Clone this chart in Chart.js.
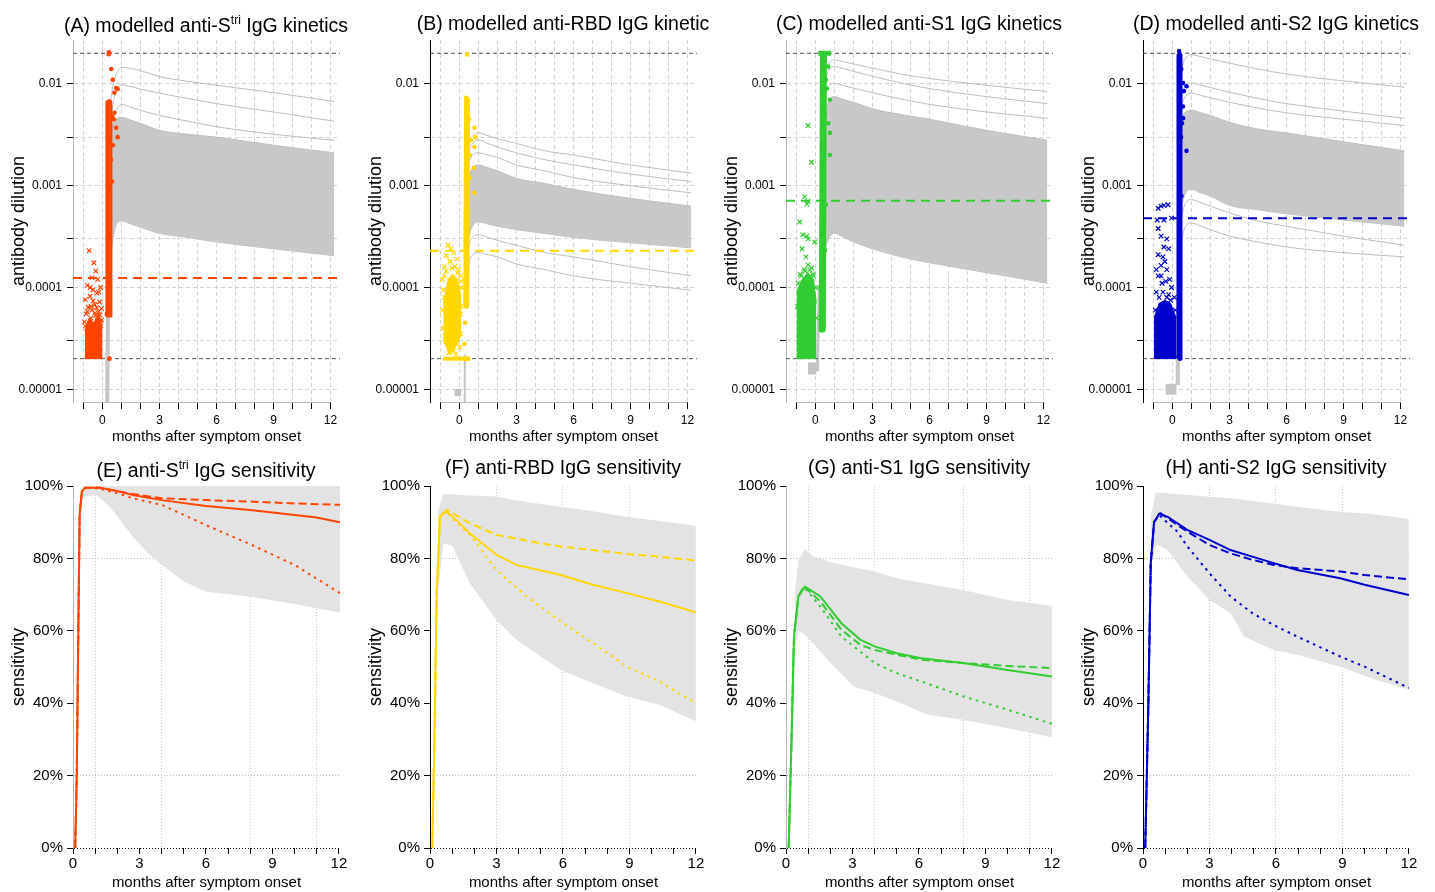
<!DOCTYPE html>
<html>
<head>
<meta charset="utf-8">
<title>Modelled IgG kinetics and sensitivity</title>
<script src="https://cdn.jsdelivr.net/npm/chart.js"></script>
<style>
  body { margin: 0; background: #fff; font-family: "Liberation Sans", Arial, sans-serif; }
  #page { position: relative; width: 1435px; height: 892px; }
  canvas { position: absolute; }
  .ttl { position: absolute; width: 400px; text-align: center; font-size: 19.5px; line-height: 24px; white-space: nowrap; color: #000; }
  .ttl sup { font-size: 12px; position: relative; top: -1px; line-height: 0; }
</style>
</head>
<body>
<div id="page">
  <canvas id="cA" width="357" height="446" style="left:0px;top:0px"></canvas>
  <canvas id="cB" width="357" height="446" style="left:357px;top:0px"></canvas>
  <canvas id="cC" width="357" height="446" style="left:713px;top:0px"></canvas>
  <canvas id="cD" width="357" height="446" style="left:1070px;top:0px"></canvas>
  <canvas id="cE" width="357" height="446" style="left:0px;top:446px"></canvas>
  <canvas id="cF" width="357" height="446" style="left:357px;top:446px"></canvas>
  <canvas id="cG" width="357" height="446" style="left:713px;top:446px"></canvas>
  <canvas id="cH" width="357" height="446" style="left:1070px;top:446px"></canvas>

  <div class="ttl" style="left:6px;top:13px">(A) modelled anti-S<sup>tri</sup> IgG kinetics</div>
  <div class="ttl" style="left:363px;top:11px">(B) modelled anti-RBD IgG kinetic</div>
  <div class="ttl" style="left:719px;top:11px">(C) modelled anti-S1 IgG kinetics</div>
  <div class="ttl" style="left:1076px;top:11px">(D) modelled anti-S2 IgG kinetics</div>
  <div class="ttl" style="left:6px;top:458px">(E) anti-S<sup>tri</sup> IgG sensitivity</div>
  <div class="ttl" style="left:363px;top:455px">(F) anti-RBD IgG sensitivity</div>
  <div class="ttl" style="left:719px;top:455px">(G) anti-S1 IgG sensitivity</div>
  <div class="ttl" style="left:1076px;top:455px">(H) anti-S2 IgG sensitivity</div>
</div>

<script>
// ---------- shared ----------
const ORANGE = '#ff4500', GOLD = '#ffd700', GREEN = '#32cd32', BLUE = '#0000cd';
const GRAY = '#bebebe';

const monthTicks = [-1, 0, 1, 2, 3, 4, 5, 6, 7, 8, 9, 10, 11, 12];
const sensMonthTicks = [0, 1, 2, 3, 4, 5, 6, 7, 8, 9, 10, 11, 12];
const monthLabels = [0, 3, 6, 9, 12];
const topYTicks = [1e-5, 3e-5, 1e-4, 3e-4, 1e-3, 3e-3, 1e-2];
const topYLabels = ['0.00001', '', '0.0001', '', '0.001', '', '0.01'];
const sensYTicks = [0, 20, 40, 60, 80, 100];
const lodLow = 2e-5, lodHigh = 0.02;

// months at which the modelled trajectories are read
const trajMonths = [0.3, 0.5, 0.7, 1, 1.5, 2, 3, 4.5, 6, 9, 12.2];

// ---------- (A) anti-Stri ----------
const cutA = 1.24e-4;
const bandHiA = [0.0015, 0.0035, 0.0045, 0.0047, 0.0044, 0.0041, 0.0035, 0.0032, 0.0030, 0.0025, 0.0021];
const bandLoA = [0.0001, 0.00025, 0.0004, 0.00045, 0.00042, 0.00039, 0.00034, 0.00031, 0.00028, 0.00024, 0.000205];
const linesA = [
  [0.004, 0.0085, 0.012, 0.0146, 0.0142, 0.0135, 0.0118, 0.0106, 0.0097, 0.0082, 0.0067],
  [0.0025, 0.0055, 0.0082, 0.0098, 0.0094, 0.0089, 0.0081, 0.0072, 0.0064, 0.0053, 0.0043],
  [0.0015, 0.0035, 0.0052, 0.0063, 0.0059, 0.0055, 0.0049, 0.0043, 0.0038, 0.0032, 0.0028]
];
const riseA = [[0.25, 7.5e-6], [0.3, 1.2e-4]];
const crossBandA = [[-0.93, 2e-5, 3.8e-5], [-0.7, 2e-5, 5e-5], [-0.45, 2e-5, 4.5e-5], [-0.2, 2e-5, 5.5e-5], [0.0, 2e-5, 4e-5]];
const crossesA = [[-0.7, 2.3e-4], [-0.45, 1.75e-4], [-0.35, 1.45e-4], [-0.55, 1.25e-4], [-0.25, 1.2e-4], [-0.8, 1.05e-4],
  [-0.1, 1.0e-4], [-0.5, 9.5e-5], [-0.3, 8.8e-5], [-0.65, 8.2e-5], [-0.9, 7.6e-5], [-0.15, 7.2e-5], [-0.4, 6.8e-5],
  [-0.75, 6.4e-5], [-0.55, 6e-5], [-0.2, 5.8e-5], [-0.85, 5.5e-5], [-0.35, 5.3e-5], [-0.05, 6.2e-5], [-0.6, 5e-5],
  [-0.95, 4.6e-5], [-0.25, 4.8e-5], [-0.1, 4.5e-5], [-0.7, 4.4e-5], [-0.9, 4.2e-5], [-0.8, 5.8e-5], [-0.6, 6.5e-5],
  [-0.4, 5.6e-5], [-0.3, 6.3e-5], [-0.15, 5.4e-5], [-0.05, 4.8e-5], [-0.5, 7.4e-5], [-0.2, 9e-5], [-0.65, 1.0e-4]];
const colA = [[0.3, 5.5e-5], [0.34, 6.5e-3]];
const dotsA = [[0.33, 0.0196], [0.35, 0.0205], [0.46, 0.014], [0.54, 0.011], [0.72, 0.0091], [0.63, 0.0082], [0.8, 0.0089],
  [0.37, 0.0067], [0.63, 0.0052], [0.72, 0.0037], [0.8, 0.003], [0.5, 0.0048], [0.6, 0.0045], [0.37, 2e-5],
  [0.3, 5.5e-5], [0.55, 0.0025], [0.45, 0.0018], [0.5, 0.0011]];

// ---------- (B) anti-RBD ----------
const cutB = 2.3e-4;
const bandHiB = [0.0006, 0.0012, 0.0015, 0.0016, 0.0015, 0.0014, 0.00118, 0.00105, 0.00092, 0.00075, 0.00063];
const bandLoB = [0.0001, 0.0003, 0.0004, 0.00044, 0.00042, 0.0004, 0.00037, 0.00034, 0.00031, 0.000275, 0.000245];
const linesB = [
  [0.0012, 0.0025, 0.0031, 0.0033, 0.0031, 0.0029, 0.0026, 0.0022, 0.002, 0.0016, 0.00133],
  [0.001, 0.0021, 0.0026, 0.0028, 0.0026, 0.0024, 0.0021, 0.0018, 0.0016, 0.0013, 0.0011],
  [0.0008, 0.0016, 0.002, 0.0021, 0.002, 0.0019, 0.0016, 0.0014, 0.0012, 0.001, 0.00085],
  [0.0001, 0.00025, 0.00031, 0.00033, 0.00031, 0.00029, 0.00026, 0.00022, 0.0002, 0.00016, 0.00013],
  [0.00007, 0.00017, 0.00021, 0.00022, 0.00021, 0.0002, 0.00017, 0.00015, 0.00013, 0.00011, 0.000094]
];
const floorB = [[-0.26, 9.3e-6], [0.09, 9.3e-6]];
const riseB = [[0.25, 7.5e-6], [0.28, 2.2e-5]];
const lodBarB = [[-0.87, 2e-5], [0.44, 2e-5]];
const crossBandB = [[-0.85, 3e-5, 7e-5], [-0.6, 2.4e-5, 1.2e-4], [-0.35, 2.4e-5, 1.35e-4], [-0.1, 2.8e-5, 1.2e-4], [0.1, 3.5e-5, 8e-5]];
const crossesB = [[-0.6, 2.6e-4], [-0.45, 2.4e-4], [-0.3, 2.2e-4], [-0.7, 2.05e-4], [-0.15, 1.9e-4], [-0.5, 1.8e-4],
  [-0.8, 1.6e-4], [-0.05, 1.5e-4], [0.05, 1.3e-4], [-0.9, 1.2e-4], [-0.85, 9.5e-5], [0.1, 1e-4], [-0.9, 6e-5],
  [0.05, 5.5e-5], [-0.75, 3.3e-5], [-0.5, 2.3e-5], [-0.2, 2.2e-5], [0.0, 2.6e-5], [-0.65, 2.8e-5], [-0.35, 3.2e-5],
  [-0.8, 1.3e-4], [-0.7, 1.45e-4], [-0.4, 1.55e-4], [-0.25, 1.6e-4], [-0.1, 1.4e-4], [0.08, 1.15e-4], [-0.85, 4e-5],
  [-0.8, 8e-5], [0.08, 6.5e-5], [-0.55, 2.3e-5], [-0.3, 2.4e-5], [0.05, 3.5e-5]];
const colB = [[0.36, 6.6e-5], [0.4, 7e-3]];
const dotsB = [[0.4, 0.0195], [0.35, 0.0073], [0.42, 0.006], [0.5, 0.0045], [0.79, 0.0037], [0.84, 0.003], [0.79, 0.0024],
  [0.76, 0.0015], [0.79, 8.5e-4], [0.55, 0.0012], [0.6, 0.0028], [0.26, 2.8e-5], [0.3, 4.5e-5], [0.32, 2e-5],
  [0.45, 2e-5], [0.28, 1.2e-4], [0.55, 0.002]];

// ---------- (C) anti-S1 ----------
const cutC = 7.1e-4;
const bandHiC = [0.002, 0.005, 0.0068, 0.0075, 0.007, 0.0066, 0.0057, 0.005, 0.0045, 0.0035, 0.0028];
const bandLoC = [0.00008, 0.00022, 0.0003, 0.00034, 0.00031, 0.00028, 0.00024, 0.0002, 0.000175, 0.00014, 0.00011];
const linesC = [
  [0.005, 0.012, 0.016, 0.0172, 0.0165, 0.0157, 0.0143, 0.0125, 0.0113, 0.0097, 0.0084],
  [0.004, 0.01, 0.0136, 0.0148, 0.0141, 0.0133, 0.0119, 0.0102, 0.009, 0.0075, 0.0064],
  [0.003, 0.0072, 0.0094, 0.0101, 0.0096, 0.0091, 0.0082, 0.0071, 0.0063, 0.0053, 0.0046]
];
const floorC = [[-0.39, 1.6e-5], [0.05, 1.6e-5]];
const riseC = [[0.1, 1.5e-5], [0.2, 1e-4]];
const topBarC = [[0.15, 0.02], [0.82, 0.02]];
const crossBandC = [[-1.0, 2e-5, 9e-5], [-0.7, 2e-5, 1.2e-4], [-0.4, 2e-5, 1.4e-4], [-0.1, 2e-5, 1.2e-4], [0.05, 2e-5, 7e-5]];
const crossesC = [[-0.39, 0.0039], [-0.21, 0.0017], [-0.57, 7.8e-4], [-0.39, 7e-4], [-0.45, 6.6e-4], [-0.83, 4.4e-4],
  [-0.66, 3.3e-4], [-0.45, 3.2e-4], [-0.39, 3e-4], [-0.04, 2.8e-4], [-0.39, 1.67e-4], [-0.6, 1.5e-4], [-0.8, 1.35e-4],
  [-0.2, 1.55e-4], [-0.1, 1.3e-4], [-0.9, 1.1e-4], [-0.75, 1.3e-4], [-0.55, 1.45e-4], [-0.3, 1.5e-4], [-0.15, 1.35e-4],
  [0.0, 1e-4], [-0.95, 6.5e-5], [0.05, 5e-5], [-0.5, 2e-4], [-0.7, 2.4e-4]];
const colC = [[0.36, 3.9e-5], [0.42, 0.019]];
const dotsC = [[0.67, 0.0148], [0.76, 0.007], [0.67, 0.0041], [0.76, 0.0033], [0.76, 0.002], [0.55, 6.5e-4], [0.5, 2.3e-4],
  [0.6, 0.009], [0.55, 0.011], [0.45, 0.0013], [0.3, 3.8e-5], [0.25, 1e-4], [0.5, 0.005]];

// ---------- (D) anti-S2 ----------
const cutD = 4.8e-4;
const bandHiD = [0.002, 0.0045, 0.0053, 0.0055, 0.0052, 0.0049, 0.0042, 0.0036, 0.0033, 0.0027, 0.0022];
const bandLoD = [0.0002, 0.0006, 0.00085, 0.00092, 0.00085, 0.00079, 0.00064, 0.00058, 0.00053, 0.00046, 0.0004];
const linesD = [
  [0.006, 0.014, 0.018, 0.0193, 0.0185, 0.0176, 0.016, 0.014, 0.0125, 0.0107, 0.0093],
  [0.003, 0.0075, 0.0095, 0.0102, 0.0097, 0.0092, 0.0083, 0.0072, 0.0064, 0.0054, 0.0046],
  [0.0025, 0.006, 0.0076, 0.0081, 0.0077, 0.0073, 0.0066, 0.0058, 0.0052, 0.0045, 0.0039],
  [0.00025, 0.0005, 0.00068, 0.00073, 0.00068, 0.00063, 0.00054, 0.00045, 0.0004, 0.00032, 0.00026],
  [0.00015, 0.0003, 0.0004, 0.00043, 0.0004, 0.00037, 0.00032, 0.00028, 0.00025, 0.00022, 0.0002]
];
const floorD = [[-0.35, 1e-5], [0.21, 1e-5]];
const riseD = [[0.28, 1.1e-5], [0.3, 8e-5]];
const crossBandD = [[-0.97, 2e-5, 5e-5], [-0.7, 2e-5, 7e-5], [-0.4, 2e-5, 7.5e-5], [-0.1, 2e-5, 7e-5], [0.2, 2e-5, 5e-5]];
const crossesD = [[-0.75, 6e-4], [-0.6, 6.3e-4], [-0.45, 6.4e-4], [-0.23, 6.5e-4], [-0.8, 4.6e-4], [-0.45, 4.6e-4],
  [-0.05, 4.8e-4], [-0.75, 3.8e-4], [-0.45, 2.5e-4], [-0.2, 2.4e-4], [-0.75, 2.1e-4], [-0.4, 1.8e-4], [-0.6, 1.65e-4],
  [-0.75, 1.3e-4], [-0.3, 1.5e-4], [-0.05, 1.0e-4], [-0.55, 1.1e-4], [-0.85, 9e-5], [-0.2, 8.5e-5], [0.1, 8e-5],
  [-0.9, 6e-5], [-0.7, 8e-5], [-0.5, 9e-5], [-0.3, 8e-5], [-0.1, 7.5e-5], [0.15, 6e-5], [-0.6, 1.3e-4],
  [-0.35, 1.15e-4], [-0.15, 1.2e-4], [-0.85, 1.5e-4], [-0.5, 2e-4], [-0.3, 3e-4], [-0.6, 3.2e-4]];
const colD = [[0.35, 2.1e-5], [0.37, 0.019]];
const dotsD = [[0.35, 0.021], [0.37, 0.017], [0.46, 0.014], [0.56, 0.0102], [0.74, 0.0095], [0.6, 0.0085], [0.56, 0.0046],
  [0.5, 0.0041], [0.74, 0.0022], [0.47, 7.9e-4], [0.37, 2.8e-5], [0.4, 2e-5], [0.55, 0.006], [0.45, 0.003]];

// ---------- (E)-(H) sensitivity, % ----------
const riseE = [[0.1, 0], [0.17, 20], [0.24, 60], [0.3, 92], [0.4, 98.5], [0.55, 99.5]];
const solidE = riseE.concat([[1.2, 99.5], [2, 98.6], [2.7, 97.5], [4, 96.1], [6, 94.5], [8, 93.4], [9, 92.7], [11, 91.3], [12.05, 90]]);
const dashedE = riseE.concat([[1.2, 99.5], [2.5, 98], [4, 96.6], [6, 96.1], [8, 95.7], [10, 95.2], [12.05, 94.8]]);
const dottedE = riseE.concat([[1.2, 99.3], [2, 98], [2.7, 96.6], [4, 94.8], [6, 89.2], [8, 83.9], [10, 78.2], [12.05, 70.4]]);
const bandE = [[0.45, 97, 100], [1.05, 97.5, 100], [1.66, 94.3, 100], [2.2, 90, 100], [2.7, 86, 100], [3.3, 82, 100],
  [4, 78.2, 100], [5, 73.6, 100], [6, 70.8, 100], [8, 69.4, 100], [10, 67.4, 100], [12.05, 65, 100]];

const riseF = [[0.1, 0], [0.2, 30], [0.3, 70], [0.45, 91.5]];
const solidF = riseF.concat([[0.72, 93.1], [1.2, 90.5], [1.8, 86.9], [3, 81], [3.9, 78.2], [5.9, 75.4], [7.35, 72.7], [8.9, 70.4], [10.35, 68.1], [12, 65.1]]);
const dashedF = riseF.concat([[0.78, 93.4], [1.8, 89.7], [3, 86.5], [4.95, 84.2], [5.9, 83.3], [7.35, 82.3], [8.9, 81.2], [10.35, 80.5], [12, 79.4]]);
const dottedF = riseF.concat([[0.7, 93], [1.2, 90], [1.8, 86.5], [3, 76.8], [4.35, 69.5], [5.9, 62.6], [7.35, 56.6], [8.9, 50.1], [10.35, 46], [12, 40]]);
const bandF = [[0.35, 70, 93], [0.6, 84.2, 97.8], [1.0, 83.5, 97.7], [1.8, 73.1, 97.4], [3, 63, 97.1], [3.9, 57.5, 96],
  [5.9, 49.2, 94.3], [7.35, 45.5, 93], [8.85, 41.9, 91.5], [10.35, 39.6, 90.3], [12, 35, 89]];

const riseG = [[0.12, 0], [0.25, 30], [0.36, 58.4], [0.56, 69.5]];
const solidG = riseG.concat([[0.86, 72.2], [1.55, 69.5], [2.5, 62.1], [3.36, 57.5], [4, 55.7], [5, 53.8], [6.1, 52.4], [8, 51.1], [10, 49.2], [12, 47.4]]);
const dashedG = riseG.concat([[0.8, 72.2], [1.55, 68.1], [2.5, 60.3], [3.36, 56.1], [4, 54.7], [6.1, 52], [8, 51.1], [10, 50.3], [12, 49.7]]);
const dottedG = riseG.concat([[0.8, 72.2], [1.55, 66.7], [2.5, 58.4], [4, 51.1], [5, 48.3], [6.1, 46], [8, 41.9], [10, 38.2], [12, 34.3]]);
const bandG = [[0.41, 54.7, 71.3], [0.56, 60, 79.6], [0.86, 58.9, 82.5], [1.24, 56.5, 80.5], [2, 51.1, 79], [3.06, 44.6, 77.5],
  [4, 42.8, 76.4], [5, 40.5, 74.5], [6.4, 36.8, 73], [8, 35.4, 71.3], [10, 33.1, 68.5], [12, 30.6, 66.9]];

const riseH = [[0.1, 0], [0.24, 39.1], [0.35, 78.7], [0.5, 90]];
const solidH = riseH.concat([[0.72, 92.3], [1.1, 91.5], [2, 87.9], [3, 85.1], [3.95, 82.3], [4.93, 80.5], [5.9, 78.7], [6.96, 76.8], [8.9, 74.5], [10, 72.7], [12, 69.9]]);
const dashedH = riseH.concat([[0.78, 92.5], [2, 87.4], [3, 83.7], [3.95, 81.4], [4.93, 79.6], [5.9, 78.2], [6.96, 77.3], [8.9, 76.4], [10, 75.4], [12, 74.2]]);
const dottedH = riseH.concat([[0.72, 92], [1.55, 87.4], [2, 83.3], [3, 75.9], [3.95, 69.5], [4.93, 64.9], [5.9, 61.6], [6.96, 58.4], [8.9, 52.9], [10, 50.1], [12, 44.2]]);
const bandH = [[0.35, 77.7, 91.5], [0.57, 83, 98.2], [0.65, 83.7, 98.2], [1.1, 82.3, 98], [2, 75, 97.5], [3, 68.5, 97],
  [3.95, 64.9, 96.6], [4.55, 58.4, 96.2], [5.9, 54.7, 95.2], [6.96, 53.4, 94.3], [8.9, 50.1, 92.8], [10.3, 46.9, 92.3], [12, 43.7, 90.9]];

// ---------- helpers ----------
Chart.defaults.font.family = '"Liberation Sans", Arial, sans-serif';
Chart.defaults.color = '#000';

function pts(xs, ys) { return xs.map((x, i) => ({x: x, y: ys[i]})); }
function pairs(arr) { return arr.map(p => ({x: p[0], y: p[1]})); }
function lineDs(data, color, width, order, extra) {
  return Object.assign({data: data, showLine: true, borderColor: color, borderWidth: width,
    pointRadius: 0, fill: false, order: order}, extra || {});
}

// R-style x axis line that only spans the labelled months
const xAxisLine = {
  id: 'xAxisLine',
  afterDraw(chart, args, opts) {
    if (opts.from === undefined) return;
    const x = chart.scales.x, y = Math.round(chart.chartArea.bottom) + 0.5, ctx = chart.ctx;
    ctx.save();
    ctx.strokeStyle = opts.color;
    ctx.lineWidth = 1;
    ctx.beginPath();
    ctx.moveTo(x.getPixelForValue(opts.from), y);
    ctx.lineTo(x.getPixelForValue(opts.to), y);
    ctx.stroke();
    ctx.restore();
  }
};

function topChart(id, p) {
  const xMin = -1.55, xMax = 12.5;
  const ds = [];
  ds.push(lineDs([{x: xMin, y: lodHigh}, {x: xMax, y: lodHigh}], '#505050', 1, 6, {borderDash: [4, 3]}));
  ds.push(lineDs([{x: xMin, y: lodLow}, {x: xMax, y: lodLow}], '#505050', 1, 6, {borderDash: [4, 3]}));
  ds.push(lineDs([{x: xMin, y: p.cut}, {x: xMax, y: p.cut}], p.color, 2, 0, {borderDash: [9, 6]}));
  // dense bundle of modelled trajectories
  ds.push(lineDs(pts(trajMonths, p.bandHi), GRAY, 1, 9, {fill: '+1', backgroundColor: '#c8c8c8', cubicInterpolationMode: 'monotone'}));
  ds.push(lineDs(pts(trajMonths, p.bandLo), GRAY, 1, 9, {cubicInterpolationMode: 'monotone'}));
  p.lines.forEach(l => ds.push(lineDs(pts(trajMonths, l), GRAY, 1, 8, {cubicInterpolationMode: 'monotone'})));
  if (p.floor) ds.push(lineDs(pairs(p.floor), '#c4c4c4', p.floorWidth, 7));
  ds.push(lineDs(pairs(p.rise), '#c4c4c4', p.riseWidth, 7));
  // negative samples (crosses)
  ds.push(lineDs(p.crossBand.map(c => ({x: c[0], y: c[2]})), p.color, 1, 3, {fill: '+1', backgroundColor: p.color}));
  ds.push(lineDs(p.crossBand.map(c => ({x: c[0], y: c[1]})), p.color, 1, 3));
  ds.push({data: pairs(p.crosses), showLine: false, pointStyle: 'crossRot', pointRadius: 3.2,
    pointBorderColor: p.color, pointBorderWidth: 1.2, order: 2});
  // positive samples (dots)
  p.bars.forEach(b => ds.push(lineDs(pairs(b.data), p.color, b.width, 2)));
  ds.push(lineDs(pairs(p.column), p.color, p.colWidth, 1, {borderCapStyle: 'round'}));
  ds.push({data: pairs(p.dots), showLine: false, pointStyle: 'circle', pointRadius: 2.3,
    pointBackgroundColor: p.color, pointBorderColor: p.color, pointBorderWidth: 0, order: 1});

  return new Chart(document.getElementById(id), {
    type: 'scatter',
    data: {datasets: ds},
    plugins: [xAxisLine],
    options: {
      animation: false, responsive: false, devicePixelRatio: 1,
      layout: {padding: {top: 40, right: 17, left: 0, bottom: 0}},
      plugins: {legend: {display: false}, tooltip: {enabled: false}, xAxisLine: {from: -1, to: 12, color: '#b8b8b8'}},
      scales: {
        x: {
          type: 'linear', min: xMin, max: xMax,
          afterBuildTicks: s => { s.ticks = monthTicks.map(v => ({value: v})); },
          afterFit: s => { s.height = 44; },
          ticks: {autoSkip: false, maxRotation: 0, padding: 4, font: {size: 12},
            callback: v => monthLabels.includes(v) ? String(v) : ''},
          grid: {color: '#d2d2d2', tickLength: 7, tickColor: '#000', tickBorderDash: []},
          border: {display: false, dash: [4, 3]},
          title: {display: true, text: 'months after symptom onset', font: {size: 15}, padding: {top: 0, bottom: 0}}
        },
        y: {
          type: 'logarithmic', min: 7.5e-6, max: 0.027,
          afterBuildTicks: s => { s.ticks = topYTicks.map(v => ({value: v})); },
          afterFit: s => { s.width = 73; },
          ticks: {autoSkip: false, padding: 5, font: {size: 12}, callback: (v, i) => topYLabels[i]},
          grid: {color: '#d2d2d2', tickLength: 6, tickColor: '#000', tickBorderDash: []},
          border: {display: true, color: p.axis, width: 1, dash: [4, 3]},
          title: {display: true, text: 'antibody dilution', font: {size: 18}, padding: {top: 8, bottom: 0}}
        }
      }
    }
  });
}

function bottomChart(id, p) {
  const ds = [
    lineDs(pairs(p.solid), p.color, 2, 1),
    lineDs(pairs(p.dashed), p.color, 2, 2, {borderDash: [8, 4]}),
    lineDs(pairs(p.dotted), p.color, 2, 3, {borderDash: [2.5, 4.5]}),
    lineDs(p.band.map(b => ({x: b[0], y: b[2]})), 'rgba(0,0,0,0)', 0, 9, {fill: '+1', backgroundColor: '#e3e3e3'}),
    lineDs(p.band.map(b => ({x: b[0], y: b[1]})), 'rgba(0,0,0,0)', 0, 9)
  ];
  return new Chart(document.getElementById(id), {
    type: 'scatter',
    data: {datasets: ds},
    options: {
      animation: false, responsive: false, devicePixelRatio: 1,
      layout: {padding: {top: 40, right: 17, left: 0, bottom: 0}},
      plugins: {legend: {display: false}, tooltip: {enabled: false}},
      scales: {
        x: {
          type: 'linear', min: 0, max: 12.05,
          afterBuildTicks: s => { s.ticks = sensMonthTicks.map(v => ({value: v})); },
          afterFit: s => { s.height = 44; },
          ticks: {autoSkip: false, maxRotation: 0, padding: 1, font: {size: 15},
            callback: v => monthLabels.includes(v) ? String(v) : ''},
          grid: {color: c => p.vGrid.includes(c.tick.value) ? '#c4c4c4' : 'rgba(0,0,0,0)',
            tickLength: 6, tickColor: '#000', tickBorderDash: []},
          border: {display: false, dash: [1, 2]},
          title: {display: true, text: 'months after symptom onset', font: {size: 15}, padding: {top: 0, bottom: 0}}
        },
        y: {
          type: 'linear', min: 0, max: 100,
          afterBuildTicks: s => { s.ticks = sensYTicks.map(v => ({value: v})); },
          afterFit: s => { s.width = 73; },
          ticks: {autoSkip: false, padding: 4, font: {size: 15}, callback: v => v + '%'},
          grid: {color: c => c.tick.value === 0 ? '#000' : (c.tick.value === 20 || c.tick.value === 80 ? '#bdbdbd' : 'rgba(0,0,0,0)'),
            tickLength: 6, tickColor: '#000', tickBorderDash: []},
          border: {display: true, color: p.axis, width: 1, dash: [1, 2]},
          title: {display: true, text: 'sensitivity', font: {size: 18}, padding: {top: 8, bottom: 0}}
        }
      }
    }
  });
}

topChart('cA', {color: ORANGE, cut: cutA, bandHi: bandHiA, bandLo: bandLoA, lines: linesA, floor: null,
  rise: riseA, riseWidth: 4, crossBand: crossBandA, crosses: crossesA, bars: [], column: colA, colWidth: 7, dots: dotsA, axis: '#b5b5b5'});
topChart('cB', {color: GOLD, cut: cutB, bandHi: bandHiB, bandLo: bandLoB, lines: linesB, floor: floorB, floorWidth: 7,
  rise: riseB, riseWidth: 2, crossBand: crossBandB, crosses: crossesB, bars: [{data: lodBarB, width: 4}], column: colB, colWidth: 6, dots: dotsB, axis: '#000'});
topChart('cC', {color: GREEN, cut: cutC, bandHi: bandHiC, bandLo: bandLoC, lines: linesC, floor: floorC, floorWidth: 12,
  rise: riseC, riseWidth: 3, crossBand: crossBandC, crosses: crossesC, bars: [{data: topBarC, width: 5}], column: colC, colWidth: 7, dots: dotsC, axis: '#b5b5b5'});
topChart('cD', {color: BLUE, cut: cutD, bandHi: bandHiD, bandLo: bandLoD, lines: linesD, floor: floorD, floorWidth: 11,
  rise: riseD, riseWidth: 4, crossBand: crossBandD, crosses: crossesD, bars: [], column: colD, colWidth: 6, dots: dotsD, axis: '#000'});

bottomChart('cE', {color: ORANGE, solid: solidE, dashed: dashedE, dotted: dottedE, band: bandE, vGrid: [1, 4, 8, 11], axis: '#b5b5b5'});
bottomChart('cF', {color: GOLD, solid: solidF, dashed: dashedF, dotted: dottedF, band: bandF, vGrid: [3, 6, 9], axis: '#000'});
bottomChart('cG', {color: GREEN, solid: solidG, dashed: dashedG, dotted: dottedG, band: bandG, vGrid: [1, 4, 8, 11], axis: '#b5b5b5'});
bottomChart('cH', {color: BLUE, solid: solidH, dashed: dashedH, dotted: dottedH, band: bandH, vGrid: [3, 6, 9], axis: '#000'});
</script>
</body>
</html>
